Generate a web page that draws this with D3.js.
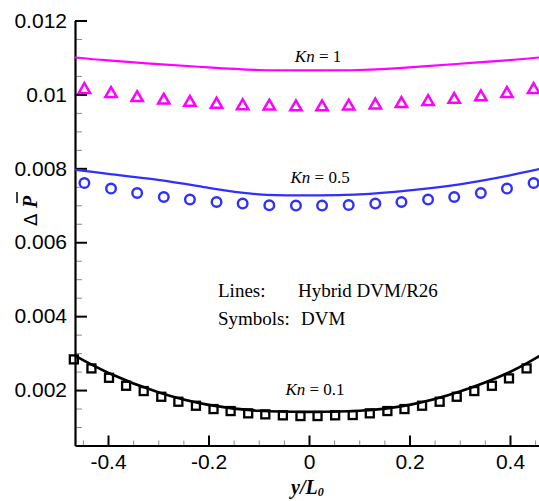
<!DOCTYPE html>
<html>
<head>
<meta charset="utf-8">
<script src="https://cdn.jsdelivr.net/npm/d3@7"></script>
<style>
  body { margin: 0; background: #fff; }
  svg { display: block; }
</style>
</head>
<body>
<div id="chart"></div>
<script>
// y positions of the samples (symbols) and of the hybrid solution (lines)
const xSymbolsCoarse = [-0.447, -0.394, -0.342, -0.289, -0.237, -0.184, -0.132, -0.079, -0.026,
  0.026, 0.079, 0.132, 0.184, 0.237, 0.289, 0.342, 0.394, 0.447]
const xSymbolsFine = [-0.468, -0.433, -0.398, -0.364, -0.329, -0.294, -0.260, -0.225, -0.190, -0.156,
  -0.121, -0.087, -0.052, -0.017, 0.017, 0.052, 0.087, 0.121, 0.156, 0.190, 0.225, 0.260, 0.294,
  0.329, 0.364, 0.398, 0.433, 0.468]
const xLines = [-0.466, -0.4, -0.3, -0.2, -0.1, 0, 0.1, 0.2, 0.3, 0.4, 0.466]

// Kn = 1
const kn1Line = [0.01100, 0.01092, 0.01082, 0.01073, 0.01066, 0.01065, 0.01066, 0.01073, 0.01083, 0.01093, 0.01101]
const kn1Dvm = [0.01013, 0.01002, 0.00991, 0.00984, 0.00978, 0.00973, 0.00969, 0.00968, 0.00966,
  0.00966, 0.00968, 0.00971, 0.00975, 0.00980, 0.00986, 0.00993, 0.01002, 0.01013]

// Kn = 0.5
const kn05Line = [0.007965, 0.007851, 0.007689, 0.007473, 0.007297, 0.00727, 0.007297, 0.007405, 0.007568, 0.00781, 0.008]
const kn05Dvm = [0.007603, 0.007451, 0.007332, 0.007224, 0.007154, 0.007089, 0.007046, 0.007, 0.006992,
  0.006992, 0.007008, 0.007046, 0.007089, 0.007154, 0.007224, 0.007332, 0.007451, 0.007603]

// Kn = 0.1
const kn01Line = [0.00293, 0.00247, 0.00194, 0.0016, 0.00144, 0.00141, 0.00144, 0.0016, 0.00196, 0.00249, 0.00298]
const kn01Dvm = [0.00283, 0.002586, 0.002332, 0.002116, 0.001973, 0.001819, 0.001684, 0.001576, 0.001486,
  0.001432, 0.00137, 0.001343, 0.001316, 0.001297, 0.001297, 0.001316, 0.001324, 0.00137, 0.001432,
  0.001486, 0.001576, 0.001684, 0.001819, 0.001973, 0.002116, 0.002316, 0.002586, 0.00283]

const xTicks = [-0.4, -0.2, 0, 0.2, 0.4]
const xTickLabels = ['-0.4', '-0.2', '0', '0.2', '0.4']
const yTicks = [0.002, 0.004, 0.006, 0.008, 0.01, 0.012]
const yTickLabels = ['0.002', '0.004', '0.006', '0.008', '0.01', '0.012']
const xMinorTicks = [-0.45, -0.35, -0.3, -0.25, -0.15, -0.1, -0.05, 0.05, 0.1, 0.15, 0.25, 0.3, 0.35, 0.45]
const yMinorTicks = [0.001, 0.0015, 0.0025, 0.003, 0.0035, 0.0045, 0.005, 0.0055, 0.0065, 0.007,
  0.0075, 0.0085, 0.009, 0.0095, 0.0105, 0.011, 0.0115]

const width = 539
const height = 501
const padding = { left: 75, top: 20.5, bottom: 55.5 }
const plotRight = 543 // the original figure is cut off slightly on the right

const xScale = d3.scaleLinear()
    .domain([-0.4657, 0.4657])
    .range([padding.left, plotRight])

const yScale = d3.scaleLinear()
    .domain([0.0005, 0.012])
    .range([height - padding.bottom, padding.top])

const svg = d3.select('#chart').append('svg')
    .attr('width', width)
    .attr('height', height)
    .style('font-family', 'Arial, "Liberation Sans", sans-serif')

// minor ticks first so the major ones sit on top
svg.append('g')
    .attr('transform', `translate(0, ${yScale(0.0005)})`)
    .call(d3.axisBottom(xScale).tickValues(xMinorTicks).tickSize(-5).tickSizeOuter(0).tickFormat(''))
    .call(g => g.select('.domain').remove())
    .call(g => g.selectAll('line').attr('stroke', '#8a8a8a').attr('stroke-width', 1))

svg.append('g')
    .attr('transform', `translate(${padding.left}, 0)`)
    .call(d3.axisLeft(yScale).tickValues(yMinorTicks).tickSize(-7).tickSizeOuter(0).tickFormat(''))
    .call(g => g.select('.domain').remove())
    .call(g => g.selectAll('line').attr('stroke', '#8a8a8a').attr('stroke-width', 1))

const xAxis = d3.axisBottom(xScale)
    .tickValues(xTicks)
    .tickFormat((d, i) => xTickLabels[i])
    .tickSize(-10)
    .tickSizeOuter(0)
    .tickPadding(9)

const yAxis = d3.axisLeft(yScale)
    .tickValues(yTicks)
    .tickFormat((d, i) => yTickLabels[i])
    .tickSize(-12)
    .tickSizeOuter(0)
    .tickPadding(8)

svg.append('g')
    .attr('transform', `translate(0, ${yScale(0.0005)})`)
    .call(xAxis)
    .call(g => g.select('.domain').attr('stroke-width', 2.2))
    .call(g => g.selectAll('.tick line').attr('stroke-width', 2))
    .call(g => g.selectAll('text').attr('font-size', 21).attr('fill', '#000').attr('font-family', null))

svg.append('g')
    .attr('transform', `translate(${padding.left}, 0)`)
    .call(yAxis)
    .call(g => g.select('.domain').attr('stroke-width', 2.2))
    .call(g => g.selectAll('.tick line').attr('stroke-width', 2))
    .call(g => g.selectAll('text').attr('font-size', 21).attr('fill', '#000').attr('font-family', null))

// lines (hybrid DVM/R26)
const lineGen = values => d3.line()
    .x((d, i) => xScale(xLines[i]))
    .y(d => yScale(d))
    .curve(d3.curveNatural)(values)

const lines = [
  { values: kn1Line, color: '#ff00ff', width: 2.2 },
  { values: kn05Line, color: '#2f2fff', width: 2.2 },
  { values: kn01Line, color: '#000000', width: 2.6 }
]

svg.append('g').selectAll('path')
    .data(lines).enter()
  .append('path')
    .attr('d', d => lineGen(d.values))
    .attr('fill', 'none')
    .attr('stroke', d => d.color)
    .attr('stroke-width', d => d.width)

// symbols (DVM)
const triangle = d3.symbol().type(d3.symbolTriangle).size(56)

svg.append('g').selectAll('path')
    .data(kn1Dvm).enter()
  .append('path')
    .attr('d', triangle)
    .attr('transform', (d, i) => `translate(${xScale(xSymbolsCoarse[i])}, ${yScale(d)})`)
    .attr('fill', 'none')
    .attr('stroke', '#ff00ff')
    .attr('stroke-width', 2.5)

svg.append('g').selectAll('circle')
    .data(kn05Dvm).enter()
  .append('circle')
    .attr('cx', (d, i) => xScale(xSymbolsCoarse[i]))
    .attr('cy', d => yScale(d))
    .attr('r', 4.8)
    .attr('fill', 'none')
    .attr('stroke', '#2f2fff')
    .attr('stroke-width', 2.4)

const sq = 8
svg.append('g').selectAll('rect')
    .data(kn01Dvm).enter()
  .append('rect')
    .attr('x', (d, i) => xScale(xSymbolsFine[i]) - sq / 2)
    .attr('y', d => yScale(d) - sq / 2)
    .attr('width', sq)
    .attr('height', sq)
    .attr('fill', 'none')
    .attr('stroke', '#000')
    .attr('stroke-width', 2.3)

// Kn labels
const knLabels = [
  { value: '1', x: 0.018, y: 0.01088 },
  { value: '0.5', x: 0.022, y: 0.007603 },
  { value: '0.1', x: 0.012, y: 0.001866 }
]

const knText = svg.append('g').selectAll('text')
    .data(knLabels).enter()
  .append('text')
    .attr('x', d => xScale(d.x))
    .attr('y', d => yScale(d.y))
    .attr('text-anchor', 'middle')
    .attr('font-family', '"Liberation Serif", "Times New Roman", serif')
    .attr('font-size', 17)
knText.append('tspan').attr('font-style', 'italic').text('Kn')
knText.append('tspan').text(d => ' = ' + d.value)

// legend note
const note = svg.append('g')
    .attr('font-family', '"Liberation Serif", "Times New Roman", serif')
    .attr('font-size', 19)
note.append('text').attr('x', 218).attr('y', 297).text('Lines:')
note.append('text').attr('x', 298).attr('y', 297).text('Hybrid DVM/R26')
note.append('text').attr('x', 218).attr('y', 325).text('Symbols:')
note.append('text').attr('x', 301).attr('y', 325).text('DVM')

// y axis title: delta P-bar, rotated
const yTitle = svg.append('g')
    .attr('transform', 'translate(37, 226) rotate(-90)')
yTitle.append('text')
    .attr('x', 0)
    .attr('y', 0)
    .attr('font-size', 18)
    .attr('font-family', '"DejaVu Sans", sans-serif')
    .text('Δ')
yTitle.append('text')
    .attr('x', 18)
    .attr('y', 0)
    .attr('font-size', 20)
    .attr('font-weight', 'bold')
    .attr('font-style', 'italic')
    .attr('font-family', '"Liberation Serif", "Times New Roman", serif')
    .text('P')
yTitle.append('line')
    .attr('x1', 23).attr('x2', 34)
    .attr('y1', -20).attr('y2', -20)
    .attr('stroke', '#000')
    .attr('stroke-width', 1.5)

// x axis title
const xTitle = svg.append('text')
    .attr('x', 291)
    .attr('y', 494)
    .attr('font-family', '"Liberation Serif", "Times New Roman", serif')
    .attr('font-weight', 'bold')
    .attr('font-style', 'italic')
    .attr('font-size', 20)
xTitle.append('tspan').text('y/L')
xTitle.append('tspan').attr('font-size', 12).attr('dy', 2).text('0')
</script>
</body>
</html>
